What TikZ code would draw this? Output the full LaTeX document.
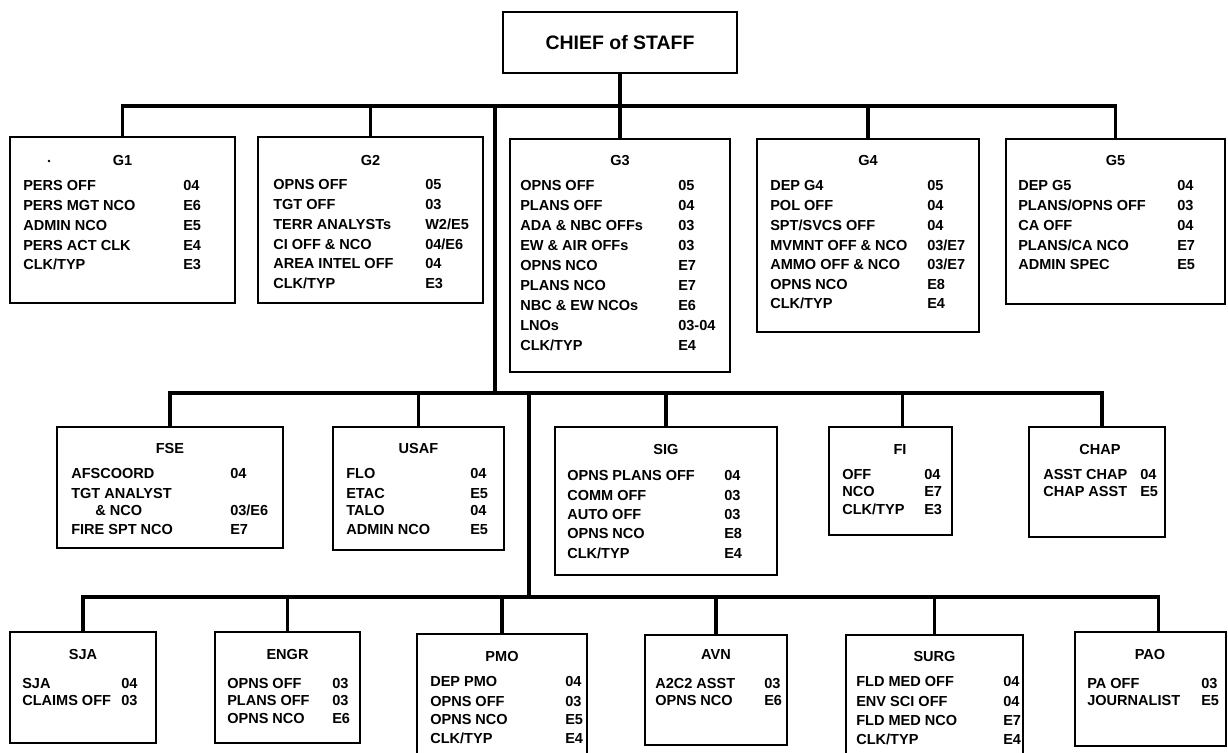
\documentclass[tikz,border=0pt]{standalone}
\usepackage{fontspec}
\setmainfont{Liberation Sans}
\usetikzlibrary{calc,fit}
\tikzset{
  boxst/.style={draw, line width=1.9pt, inner sep=0pt},
  conn/.style={line width=2.3pt},
  lbl/.style={anchor=base west, inner sep=0pt, font=\bfseries\fontsize{10.9}{12}\selectfont},
  ttl/.style={anchor=base, inner sep=0pt, font=\bfseries\fontsize{10.9}{12}\selectfont},
}
\newcommand\entry[6]{\node[lbl] (#1l) at (#2,#4+5) {#5}; \node[lbl] (#1r) at (#3,#4+5) {#6};}
\newcommand\ttlnode[4]{\node[ttl] (#1) at (#2,#3+5) {#4};}
\begin{document}
\begin{tikzpicture}[x=0.75pt,y=-0.75pt]
\path[use as bounding box, fill=white] (0,0) rectangle (1228,753);
\clip (0,0) rectangle (1228,753);
% ---------------- boxes
\node[boxst, fit={(503,12) (737,73)}] (cos) {};
\node[anchor=center, inner sep=0pt, font=\bfseries\fontsize{14.6}{16}\selectfont] (cost) at (620,43) {CHIEF of STAFF};
\node[boxst, fit={(10,137) (235,303)}] (g1) {};
\node[boxst, fit={(258,137) (483,303)}] (g2) {};
\node[boxst, fit={(510,139) (730,372)}] (g3) {};
\node[boxst, fit={(757,139) (979,332)}] (g4) {};
\node[boxst, fit={(1006,139) (1225,304)}] (g5) {};
\node[boxst, fit={(57,427) (283,548)}] (fse) {};
\node[boxst, fit={(333,427) (504,550)}] (usaf) {};
\node[boxst, fit={(555,427) (777,575)}] (sig) {};
\node[boxst, fit={(829,427) (952,535)}] (fi) {};
\node[boxst, fit={(1029,427) (1165,537)}] (chap) {};
\node[boxst, fit={(10,632) (156,743)}] (sja) {};
\node[boxst, fit={(215,632) (360,743)}] (engr) {};
\node[boxst, fit={(417,634) (587,775)}] (pmo) {};
\node[boxst, fit={(645,635) (787,745)}] (avn) {};
\node[boxst, fit={(846,635) (1023,775)}] (surg) {};
\node[boxst, fit={(1075,632) (1226,746)}] (pao) {};
% ---------------- connectors
\coordinate (busT) at (0,106);
\coordinate (busM) at (0,393);
\coordinate (busB) at (0,597);
\coordinate (sT) at (495,106);
\coordinate (sM) at (495,393);
\coordinate (lM) at (529,393);
\coordinate (lB) at (529,597);
\coordinate (fiS) at ($(fi.north)+(12,0)$);
\coordinate (chS) at ($(chap.north)+(5,0)$);
\coordinate (paoS) at ($(pao.north)+(8,0)$);
\draw[conn] (cos.south) -- (g3.north);
\draw[conn] (g1.north) -- (g1.north |- busT) -- (g5.north |- busT) -- (g5.north);
\draw[conn] (g2.north) -- (g2.north |- busT);
\draw[conn] (g4.north) -- (g4.north |- busT);
\draw[conn] (sT) -- (sM);
\draw[conn] (fse.north) -- (fse.north |- busM) -- (chS |- busM) -- (chS);
\draw[conn] (usaf.north) -- (usaf.north |- busM);
\draw[conn] (sig.north) -- (sig.north |- busM);
\draw[conn] (fiS) -- (fiS |- busM);
\draw[conn] (lM) -- (lB);
\draw[conn] (sja.north) -- (sja.north |- busB) -- (paoS |- busB) -- (paoS);
\draw[conn] (engr.north) -- (engr.north |- busB);
\draw[conn] (pmo.north) -- (pmo.north |- busB);
\draw[conn] (avn.north) -- (avn.north |- busB);
\draw[conn] (surg.north) -- (surg.north |- busB);
% ---------------- G1
\fill (49,161) circle (1.3) coordinate (g1dot);
\ttlnode{g1t}{122.5}{160}{G1}
\entry{g1a}{23}{183}{185}{PERS OFF}{04}
\entry{g1b}{23}{183}{205}{PERS MGT NCO}{E6}
\entry{g1c}{23}{183}{225}{ADMIN NCO}{E5}
\entry{g1d}{23}{183}{245}{PERS ACT CLK}{E4}
\entry{g1e}{23}{183}{264}{CLK/TYP}{E3}
% ---------------- G2
\ttlnode{g2t}{370.5}{160}{G2}
\entry{g2a}{273}{425}{184}{OPNS OFF}{05}
\entry{g2b}{273}{425}{204}{TGT OFF}{03}
\entry{g2c}{273}{425}{224}{TERR ANALYSTs}{W2/E5}
\entry{g2d}{273}{425}{244}{CI OFF \& NCO}{04/E6}
\entry{g2e}{273}{425}{263}{AREA INTEL OFF}{04}
\entry{g2f}{273}{425}{283}{CLK/TYP}{E3}
% ---------------- G3
\ttlnode{g3t}{620}{160}{G3}
\entry{g3a}{520}{678}{185}{OPNS OFF}{05}
\entry{g3b}{520}{678}{205}{PLANS OFF}{04}
\entry{g3c}{520}{678}{225}{ADA \& NBC OFFs}{03}
\entry{g3d}{520}{678}{245}{EW \& AIR OFFs}{03}
\entry{g3e}{520}{678}{265}{OPNS NCO}{E7}
\entry{g3f}{520}{678}{285}{PLANS NCO}{E7}
\entry{g3g}{520}{678}{305}{NBC \& EW NCOs}{E6}
\entry{g3h}{520}{678}{325}{LNOs}{03-04}
\entry{g3i}{520}{678}{345}{CLK/TYP}{E4}
% ---------------- G4
\ttlnode{g4t}{868}{160}{G4}
\entry{g4a}{770}{927}{185}{DEP G4}{05}
\entry{g4b}{770}{927}{205}{POL OFF}{04}
\entry{g4c}{770}{927}{225}{SPT/SVCS OFF}{04}
\entry{g4d}{770}{927}{245}{MVMNT OFF \& NCO}{03/E7}
\entry{g4e}{770}{927}{264}{AMMO OFF \& NCO}{03/E7}
\entry{g4f}{770}{927}{284}{OPNS NCO}{E8}
\entry{g4g}{770}{927}{303}{CLK/TYP}{E4}
% ---------------- G5
\ttlnode{g5t}{1115.5}{160}{G5}
\entry{g5a}{1018}{1177}{185}{DEP G5}{04}
\entry{g5b}{1018}{1177}{205}{PLANS/OPNS OFF}{03}
\entry{g5c}{1018}{1177}{225}{CA OFF}{04}
\entry{g5d}{1018}{1177}{245}{PLANS/CA NCO}{E7}
\entry{g5e}{1018}{1177}{264}{ADMIN SPEC}{E5}
% ---------------- FSE
\ttlnode{fset}{170}{448}{FSE}
\entry{fsea}{71}{230}{473}{AFSCOORD}{04}
\node[lbl] (fseb) at (71,493+5) {TGT ANALYST};
\entry{fsec}{95}{230}{510}{\& NCO}{03/E6}
\entry{fsed}{71}{230}{529}{FIRE SPT NCO}{E7}
% ---------------- USAF
\ttlnode{usaft}{418.5}{448}{USAF}
\entry{usafa}{346}{470}{473}{FLO}{04}
\entry{usafb}{346}{470}{493}{ETAC}{E5}
\entry{usafc}{346}{470}{510}{TALO}{04}
\entry{usafd}{346}{470}{529}{ADMIN NCO}{E5}
% ---------------- SIG
\ttlnode{sigt}{666}{449}{SIG}
\entry{siga}{567}{724}{475}{OPNS PLANS OFF}{04}
\entry{sigb}{567}{724}{495}{COMM OFF}{03}
\entry{sigc}{567}{724}{514}{AUTO OFF}{03}
\entry{sigd}{567}{724}{533}{OPNS NCO}{E8}
\entry{sige}{567}{724}{553}{CLK/TYP}{E4}
% ---------------- FI
\ttlnode{fit}{900}{449}{FI}
\entry{fia}{842}{924}{474}{OFF}{04}
\entry{fib}{842}{924}{491}{NCO}{E7}
\entry{fic}{842}{924}{509}{CLK/TYP}{E3}
% ---------------- CHAP
\ttlnode{chapt}{1100}{449}{CHAP}
\entry{chapa}{1043}{1140}{474}{ASST CHAP}{04}
\entry{chapb}{1043}{1140}{491}{CHAP ASST}{E5}
% ---------------- SJA
\ttlnode{sjat}{83}{654}{SJA}
\entry{sjaa}{22}{121}{683}{SJA}{04}
\entry{sjab}{22}{121}{700}{CLAIMS OFF}{03}
% ---------------- ENGR
\ttlnode{engrt}{287.5}{654}{ENGR}
\entry{engra}{227}{332}{683}{OPNS OFF}{03}
\entry{engrb}{227}{332}{700}{PLANS OFF}{03}
\entry{engrc}{227}{332}{718}{OPNS NCO}{E6}
% ---------------- PMO
\ttlnode{pmot}{502}{656}{PMO}
\entry{pmoa}{430}{565}{681}{DEP PMO}{04}
\entry{pmob}{430}{565}{701}{OPNS OFF}{03}
\entry{pmoc}{430}{565}{719}{OPNS NCO}{E5}
\entry{pmod}{430}{565}{738}{CLK/TYP}{E4}
% ---------------- AVN
\ttlnode{avnt}{716}{654}{AVN}
\entry{avna}{655}{764}{683}{A2C2 ASST}{03}
\entry{avnb}{655}{764}{700}{OPNS NCO}{E6}
% ---------------- SURG
\ttlnode{surgt}{934.5}{656}{SURG}
\entry{surga}{856}{1003}{681}{FLD MED OFF}{04}
\entry{surgb}{856}{1003}{701}{ENV SCI OFF}{04}
\entry{surgc}{856}{1003}{720}{FLD MED NCO}{E7}
\entry{surgd}{856}{1003}{739}{CLK/TYP}{E4}
% ---------------- PAO
\ttlnode{paot}{1150}{654}{PAO}
\entry{paoa}{1087}{1201}{683}{PA OFF}{03}
\entry{paob}{1087}{1201}{700}{JOURNALIST}{E5}
\end{tikzpicture}
\end{document}
